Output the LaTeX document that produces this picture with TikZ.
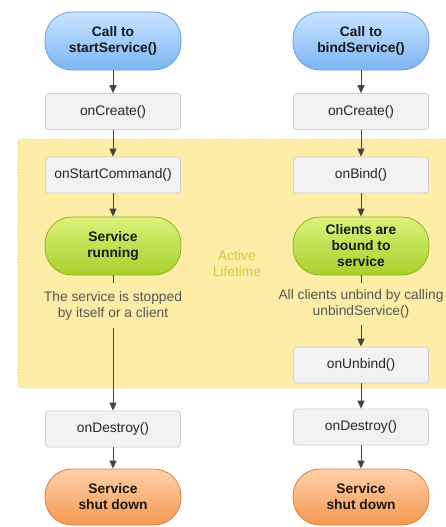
\documentclass[tikz,border=0pt]{standalone}
\usepackage{fontspec}
\setmainfont{Liberation Sans}
\usetikzlibrary{arrows.meta}
\definecolor{boxfill}{HTML}{F2F2F2}
\definecolor{boxline}{HTML}{CFCFCF}
\definecolor{bluetop}{HTML}{C8E4FF}
\definecolor{bluebot}{HTML}{7DB6F4}
\definecolor{blueline}{HTML}{6A9FE0}
\definecolor{greentop}{HTML}{DDF27A}
\definecolor{greenbot}{HTML}{A6D02C}
\definecolor{greenline}{HTML}{8DB324}
\definecolor{orangetop}{HTML}{FFD0A8}
\definecolor{orangebot}{HTML}{F59852}
\definecolor{orangeline}{HTML}{D9823E}
\definecolor{zonefill}{HTML}{FEEDA6}
\definecolor{zoneline}{HTML}{E2BE5A}
\definecolor{zonetext}{HTML}{D4C83A}
\definecolor{arrowc}{HTML}{444444}
\definecolor{txtc}{HTML}{555555}
\begin{document}
\begin{tikzpicture}[x=1pt,y=-1pt,
  pill/.style={rectangle, rounded corners=27pt, minimum width=136pt, minimum height=58pt,
    line width=0.8pt, align=center, font=\fontsize{13.8}{16}\selectfont\bfseries, text=black!90, inner sep=0pt},
  bluepill/.style={pill, draw=blueline, top color=bluetop, bottom color=bluebot},
  greenpill/.style={pill, draw=greenline, top color=greentop, bottom color=greenbot},
  orangepill/.style={pill, minimum height=56pt, draw=orangeline, top color=orangetop, bottom color=orangebot},
  methodbox/.style={rectangle, rounded corners=3pt, minimum width=135pt, minimum height=36pt,
    draw=boxline, fill=boxfill, line width=0.8pt, font=\fontsize{13.8}{16}\selectfont, text=black!85, inner sep=0pt},
  note/.style={align=center, font=\fontsize{13.8}{16}\selectfont, text=txtc, minimum height=45pt, inner sep=0pt},
  conn/.style={draw=arrowc, line width=0.9pt},
  arr/.style={conn, -{Triangle[width=7pt,length=8pt]}},
]
\useasboundingbox (0,0) rectangle (445,527);
\fill[white] (0,0) rectangle (445,527);
% active lifetime zone
\draw[fill=zonefill, draw=zoneline, dotted, line width=0.9pt, rounded corners=4pt] (18,139) rectangle (452,388);
\node[text=zonetext, align=center, font=\fontsize{13.8}{16}\selectfont] (active) at (237,264) {Active\\Lifetime};

% left column
\node[bluepill] (start) at (113,41) {Call to\\startService()};
\node[methodbox] (createL) at (113,111.5) {onCreate()};
\node[methodbox] (startcmd) at (113,175) {onStartCommand()};
\node[greenpill] (running) at (113,246) {Service\\running};
\node[note] (stopped) at (113,305.5) {The service is stopped\\by itself or a client};
\node[methodbox] (destroyL) at (113,429) {onDestroy()};
\node[orangepill] (shutL) at (113,497) {Service\\shut down};

% right column
\node[bluepill] (bind) at (361,41) {Call to\\bindService()};
\node[methodbox] (createR) at (361,111.5) {onCreate()};
\node[methodbox] (onbind) at (361,175) {onBind()};
\node[greenpill] (bound) at (361,246) {Clients are\\bound to\\service};
\node[note, minimum height=42pt] (unbindall) at (361,304) {All clients unbind by calling\\unbindService()};
\node[methodbox] (onunbind) at (361,365) {onUnbind()};
\node[methodbox] (destroyR) at (361,427) {onDestroy()};
\node[orangepill] (shutR) at (361,497) {Service\\shut down};

% connectors left
\draw[arr] (start) -- (createL);
\draw[arr] (createL) -- (startcmd);
\draw[arr] (startcmd) -- (running);
\draw[conn] (running) -- (stopped);
\draw[arr] (stopped) -- (destroyL);
\draw[arr] (destroyL) -- (shutL);

% connectors right
\draw[arr] (bind) -- (createR);
\draw[arr] (createR) -- (onbind);
\draw[arr] (onbind) -- (bound);
\draw[conn] (bound) -- (unbindall);
\draw[arr] (unbindall) -- (onunbind);
\draw[arr] (onunbind) -- (destroyR);
\draw[arr] (destroyR) -- (shutR);
\end{tikzpicture}
\end{document}
